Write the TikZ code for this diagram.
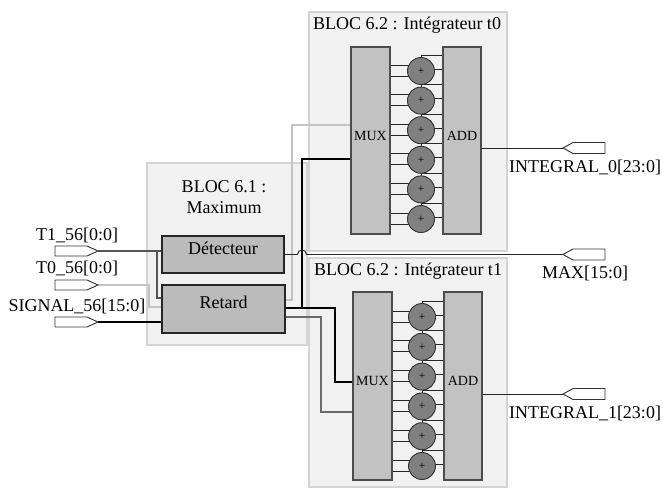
\documentclass[tikz,border=0pt]{standalone}
\usepackage{fontspec}
\setmainfont{Liberation Serif}
\usetikzlibrary{fit,calc}
\pgfdeclarelayer{back}
\pgfdeclarelayer{wires}
\pgfsetlayers{back,wires,main}
\definecolor{blockbg}{HTML}{F1F1F1}
\definecolor{blockline}{HTML}{D4D4D4}
\definecolor{unitfill}{HTML}{BBBBBB}
\definecolor{muxfill}{HTML}{C2C2C2}
\definecolor{addfill}{HTML}{808080}
\definecolor{wdark}{HTML}{555555}
\definecolor{wlight}{HTML}{C4C4C4}
\definecolor{wmid}{HTML}{6A6A6A}
\begin{document}
\begin{tikzpicture}[x=0.75pt,y=-0.75pt,
  bloc/.style={draw=blockline, fill=blockbg, line width=1pt, inner sep=0pt},
  unit/.style={draw=black!85, fill=unitfill, line width=0.8pt, inner sep=0pt, font=\fontsize{13.5}{15}\selectfont},
  muxbox/.style={draw=black!70, fill=muxfill, line width=0.8pt, inner sep=0pt, font=\fontsize{10.5}{12}\selectfont},
  adder/.style={circle, draw=black!80, fill=addfill, line width=0.7pt, minimum size=27*0.75pt, inner sep=0pt, font=\fontsize{8.5}{9}\selectfont},
  lbl/.style={font=\fontsize{13.5}{15}\selectfont, inner sep=0pt},
  port/.style={draw=black!80, fill=white, line width=0.7pt},
  tap/.style={draw=black!85, line width=0.6pt},
  wT1/.style={draw=wdark, line width=1.4pt},
  wT0/.style={draw=wlight, line width=1.4pt},
  wSig/.style={draw=black, line width=1.7pt},
  wMid/.style={draw=wmid, line width=1.4pt},
  wThin/.style={draw=black!85, line width=0.7pt},
]
\useasboundingbox (0,0) rectangle (663,489);

\begin{pgfonlayer}{back}
\node[bloc, fit={(147,163) (307,345)}] (b61) {};
\node[bloc, fit={(309,12) (507,251)}] (b62a) {};
\node[bloc, fit={(309,258) (507,487)}] (b62b) {};
\end{pgfonlayer}

% titles
\node[lbl] (t62a) at (407,25) {BLOC 6.2 : Intégrateur t0};
\node[lbl] (t62b) at (408,271) {BLOC 6.2 : Intégrateur t1};
\node[lbl] (t61a) at (224,187) {BLOC 6.1 :};
\node[lbl] (t61b) at (224,208) {Maximum};

% units
\node[unit, fit={(162,236) (284,273)}] (det) {Détecteur};
\node[unit, fit={(162,285) (285,333)}] (ret) {Retard};

\node[muxbox, fit={(351,47) (390,234)}] (mux0) {MUX};
\node[muxbox, fit={(443,47) (481,234)}] (add0) {ADD};
\node[muxbox, fit={(353,292) (392,480)}] (mux1) {MUX};
\node[muxbox, fit={(444,292) (482,480)}] (add1) {ADD};

\foreach \i in {0,...,5}{
  \node[adder] (s0-\i) at (421,71+29.6*\i) {+};
  \node[adder] (s1-\i) at (422,317+29.8*\i) {+};
}

\begin{pgfonlayer}{wires}
\foreach \b in {0,1}{
  \foreach \i in {0,...,5}{
    \coordinate (u) at ($(s\b-\i)+(0,-6)$);
    \coordinate (d) at ($(s\b-\i)+(0,5)$);
    \coordinate (t) at ($(s\b-\i)+(0,-16)$);
    \coordinate (m) at ($(s\b-\i)+(0,-2)$);
    \draw[tap] (mux\b.east |- u) -- (u);
    \draw[tap] (mux\b.east |- d) -- (d);
    \draw[tap] (s\b-\i.center) -- (t) -- (add\b.west |- t);
    \draw[tap] (m) -- (add\b.west |- m);
  }
}

% port coordinates
\coordinate (pT1) at (98,251);
\coordinate (pT0) at (98,285);
\coordinate (pSig) at (98,322);
\coordinate (pI0) at (563,148);
\coordinate (pMax) at (563,254.5);
\coordinate (pI1) at (563,394);

% inputs
\coordinate (j1) at (157,251);
\coordinate (k0) at (149,307);
\draw[wT1] (pT1) -- (det.west |- pT1);
\draw[wT1] (j1) |- (ret.west |- 0,298);
\draw[wT0] (pT0) -| (k0) -- (ret.west |- k0);
\draw[wSig] (pSig) -- (ret.west |- pSig);

% retard outputs
\coordinate (kk) at (292,125);
\coordinate (k2a) at (335,308);
\coordinate (k2b) at (335,382);
\coordinate (j2) at (302,308);
\coordinate (k3) at (321,412);
\draw[wT0] (ret.east |- 0,300) -| (kk) -- (mux0.west |- kk);
\draw[wSig] (ret.east |- 0,308) -- (k2a) -- (k2b) -- (mux1.west |- k2b);
\draw[wSig] (j2) |- (mux0.west |- 0,159);
\draw[wMid] (ret.east |- 0,317) -| (k3) -- (mux1.west |- k3);

% outputs
\draw[wThin] (det.east) -- (297.5,254.5) .. controls (297.5,248.5) and (306.5,248.5) .. (306.5,254.5) -- (pMax);
\draw[wThin] (add0.east |- pI0) -- (pI0);
\draw[wThin] (add1.east |- pI1) -- (pI1);
\end{pgfonlayer}

% ports
\draw[port] (pT1) -- ++(-11,-5) -- ++(-32,0) -- ++(0,10) -- ++(32,0) -- cycle;
\draw[port] (pT0) -- ++(-11,-5) -- ++(-32,0) -- ++(0,10) -- ++(32,0) -- cycle;
\draw[port] (pSig) -- ++(-11,-5) -- ++(-32,0) -- ++(0,10) -- ++(32,0) -- cycle;
\draw[port] (pI0) -- ++(10,-5.5) -- ++(32,0) -- ++(0,11) -- ++(-32,0) -- cycle;
\draw[port] (pMax) -- ++(10,-5.5) -- ++(32,0) -- ++(0,11) -- ++(-32,0) -- cycle;
\draw[port] (pI1) -- ++(10,-5.5) -- ++(32,0) -- ++(0,11) -- ++(-32,0) -- cycle;

% port labels
\node[lbl] (lT1) at (77,235) {T1\_56[0:0]};
\node[lbl] (lT0) at (77,268) {T0\_56[0:0]};
\node[lbl] (lSig) at (77,306) {SIGNAL\_56[15:0]};
\node[lbl] (lI0) at (585,167) {INTEGRAL\_0[23:0]};
\node[lbl] (lMax) at (585,273) {MAX[15:0]};
\node[lbl] (lI1) at (585,413) {INTEGRAL\_1[23:0]};
\end{tikzpicture}
\end{document}
